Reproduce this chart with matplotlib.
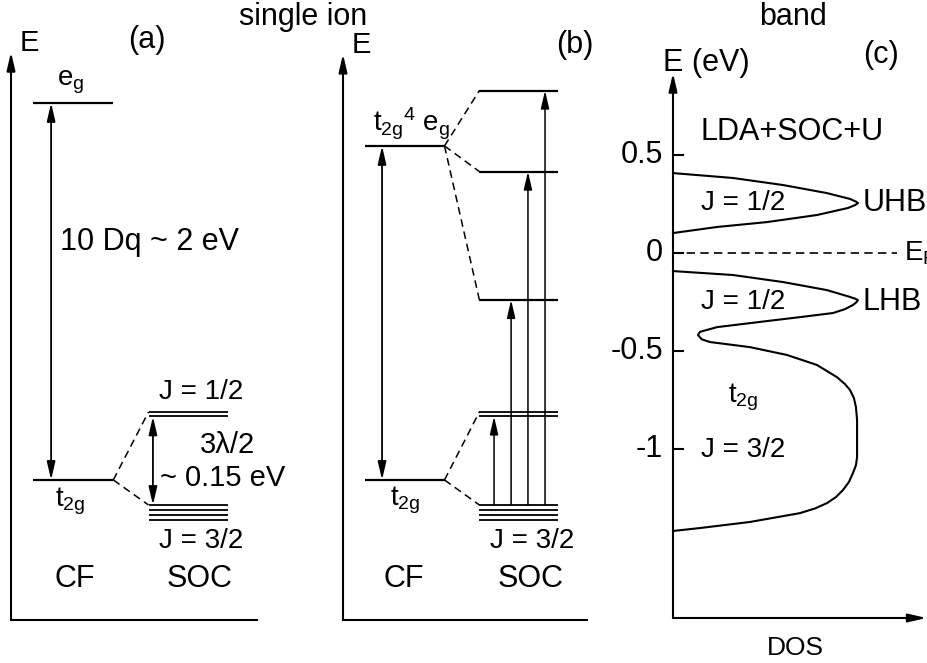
import matplotlib
matplotlib.use("Agg")
import matplotlib.pyplot as plt

plt.rcParams["font.family"] = ["Liberation Sans", "DejaVu Sans"]
plt.rcParams["mathtext.fontset"] = "custom"
plt.rcParams["mathtext.rm"] = "Liberation Sans"
plt.rcParams["mathtext.it"] = "Liberation Sans:italic"

# panel (a): single ion, crystal field then SOC (schematic energies, eV)
A_EG = 2.0
A_T2G = 0.0
A_J12 = [0.361, 0.337]
A_J32 = [-0.133, -0.159, -0.186, -0.212]

# panel (b): t2g^4 eg excitation split by SOC
B_UPPER = 1.772
B_T2G = 0.0
B_SOC = [2.066, 1.636, 0.955]
B_J12 = [0.361, 0.337]
B_J32 = [-0.133, -0.159, -0.186, -0.212]
B_TARGETS = [0.337, 0.955, 1.636, 2.066]

# panel (c): LDA+SOC+U density of states (E in eV, DOS arb. units)
UHB_E = [0.408, 0.383, 0.347, 0.306, 0.276, 0.262, 0.255, 0.245, 0.230, 0.194,
         0.158, 0.133, 0.102]
UHB_DOS = [0.0, 0.324, 0.595, 0.832, 0.957, 0.99, 1.0, 0.985, 0.946, 0.778,
           0.508, 0.238, 0.0]
LHB_E = [-0.092, -0.112, -0.148, -0.189, -0.224, -0.233, -0.240, -0.252, -0.265, -0.286,
         -0.306, -0.327, -0.347, -0.378, -0.402, -0.418, -0.440, -0.454, -0.480, -0.520,
         -0.571, -0.633, -0.669, -0.699, -0.740, -0.786, -0.852, -0.918, -0.980, -1.041,
         -1.082, -1.122, -1.168, -1.209, -1.245, -1.276, -1.303, -1.327, -1.372, -1.403,
         -1.418]
LHB_DOS = [0.0, 0.324, 0.595, 0.832, 0.957, 0.985, 1.0, 0.99, 0.973, 0.93,
           0.865, 0.686, 0.508, 0.238, 0.146, 0.135, 0.155, 0.2, 0.416, 0.616,
           0.778, 0.886, 0.93, 0.957, 0.978, 0.989, 0.995, 0.995, 0.995, 0.995,
           0.989, 0.973, 0.951, 0.919, 0.881, 0.832, 0.768, 0.686, 0.416, 0.146,
           0.0]
C_TICKS = [0.5, 0.0, -0.5, -1.0]
C_TICK_LABELS = ["0.5", "0", "-0.5", "-1"]

# layout (fractions of each level panel)
CF_X = (0.09, 0.416)
SOC_X = (0.559, 0.883)
DASH = (0, (5, 3.2))
W, H = 927, 663


def arrow(ax, x0, y0, x1, y1, style="-|>", lw=1.3):
    ax.annotate("", xy=(x1, y1), xytext=(x0, y0), annotation_clip=False,
                arrowprops=dict(arrowstyle=f"{style},head_length=1.08,head_width=0.25",
                                mutation_scale=10, lw=lw, color="k",
                                shrinkA=0, shrinkB=0))


def level(ax, y, xr, lw=1.6):
    ax.plot(xr, [y, y], color="k", lw=lw, clip_on=False, solid_capstyle="butt")


def frame(ax, ymin, ytop):
    arrow(ax, 0, ymin, 0, ytop, lw=1.5)
    ax.plot([0, 1], [ymin, ymin], color="k", lw=1.5, clip_on=False)


fig = plt.figure(figsize=(W / 100, H / 100), dpi=100)
ax_a = fig.add_axes([11 / W, 43 / H, 246 / W, 580 / H])
ax_b = fig.add_axes([343 / W, 43 / H, 244 / W, 580 / H])
ax_c = fig.add_axes([673 / W, 45 / H, 254 / W, 578 / H])
for ax in (ax_a, ax_b):
    ax.set_xlim(0, 1)
    ax.set_ylim(-0.743, 2.334)
    ax.axis("off")
ax_c.set_xlim(0, 1.373)
ax_c.set_ylim(-1.862, 1.087)
ax_c.axis("off")

# ---------------- panel (a) ----------------
frame(ax_a, -0.743, 2.27)
level(ax_a, A_EG, CF_X)
level(ax_a, A_T2G, CF_X)
for y in A_J12:
    level(ax_a, y, SOC_X, lw=1.3)
for y in A_J32:
    level(ax_a, y, SOC_X, lw=1.3)
ax_a.plot([CF_X[1], SOC_X[0]], [A_T2G, A_J12[0]], color="k", lw=1.1, ls=DASH, clip_on=False)
ax_a.plot([CF_X[1], SOC_X[0]], [A_T2G, A_J32[0]], color="k", lw=1.1, ls=DASH, clip_on=False)
arrow(ax_a, 0.163, A_T2G, 0.163, A_EG, style="<|-|>")
arrow(ax_a, 0.577, A_J32[0], 0.577, A_J12[-1], style="<|-|>")

ax_a.text(0.075, 2.316, "E", fontsize=21, ha="center", va="center")
ax_a.text(0.553, 2.334, "(a)", fontsize=22, ha="center", va="center")
ax_a.text(0.185, 2.095, r"$\mathregular{e_g}$", fontsize=20, ha="left", va="baseline")
ax_a.text(0.2, 1.263, "10 Dq ~ 2 eV", fontsize=22, ha="left", va="center")
ax_a.text(0.179, -0.143, r"$\mathregular{t_{2g}}$", fontsize=20, ha="left", va="baseline")
ax_a.text(0.772, 0.467, "J = 1/2", fontsize=20, ha="center", va="center")
ax_a.text(0.882, 0.186, "3λ/2", fontsize=21, ha="center", va="center")
ax_a.text(0.606, 0.011, "~ 0.15 eV", fontsize=21, ha="left", va="center")
ax_a.text(0.772, -0.324, "J = 3/2", fontsize=20, ha="center", va="center")
ax_a.text(0.26, -0.525, "CF", fontsize=22, ha="center", va="center")
ax_a.text(0.768, -0.525, "SOC", fontsize=22, ha="center", va="center")

# ---------------- panel (b) ----------------
frame(ax_b, -0.743, 2.26)
level(ax_b, B_UPPER, CF_X)
level(ax_b, B_T2G, CF_X)
for y in B_SOC:
    level(ax_b, y, SOC_X)
for y in B_J12:
    level(ax_b, y, SOC_X, lw=1.3)
for y in B_J32:
    level(ax_b, y, SOC_X, lw=1.3)
for y in B_SOC:
    ax_b.plot([CF_X[1], SOC_X[0]], [B_UPPER, y], color="k", lw=1.1, ls=DASH, clip_on=False)
ax_b.plot([CF_X[1], SOC_X[0]], [B_T2G, B_J12[0]], color="k", lw=1.1, ls=DASH, clip_on=False)
ax_b.plot([CF_X[1], SOC_X[0]], [B_T2G, B_J32[0]], color="k", lw=1.1, ls=DASH, clip_on=False)
arrow(ax_b, 0.16, B_T2G, 0.16, B_UPPER, style="<|-|>")
for xa, yt in zip([0.619, 0.689, 0.758, 0.828], B_TARGETS):
    arrow(ax_b, xa, B_J32[0], xa, yt, lw=1.1)

ax_b.text(0.074, 2.31, "E", fontsize=21, ha="center", va="center")
ax_b.text(0.951, 2.308, "(b)", fontsize=22, ha="center", va="center")
ax_b.text(0.123, 1.846, r"$\mathregular{t_{2g}{}^{4}\ e_g}$", fontsize=20, ha="left", va="baseline")
ax_b.text(0.193, -0.133, r"$\mathregular{t_{2g}}$", fontsize=20, ha="left", va="baseline")
ax_b.text(0.775, -0.324, "J = 3/2", fontsize=20, ha="center", va="center")
ax_b.text(0.25, -0.525, "CF", fontsize=22, ha="center", va="center")
ax_b.text(0.77, -0.525, "SOC", fontsize=22, ha="center", va="center")

# ---------------- panel (c) ----------------
arrow(ax_c, 0, -1.862, 0, 0.918, lw=1.5)
arrow(ax_c, 0, -1.862, 1.37, -1.862, lw=1.5)
for t, lab in zip(C_TICKS, C_TICK_LABELS):
    ax_c.plot([0, 0.054], [t, t], color="k", lw=1.5, clip_on=False)
    ax_c.text(-0.054, t, lab, fontsize=22, ha="right", va="center")
ax_c.plot([0, 1.21], [0, 0], color="k", lw=1.2, ls=DASH, clip_on=False)
ax_c.plot(UHB_DOS, UHB_E, color="k", lw=1.5, clip_on=False, solid_joinstyle="round")
ax_c.plot(LHB_DOS, LHB_E, color="k", lw=1.5, clip_on=False, solid_joinstyle="round")

ax_c.text(-0.054, 0.969, "E (eV)", fontsize=22, ha="left", va="center")
ax_c.text(1.124, 1.010, "(c)", fontsize=22, ha="center", va="center")
ax_c.text(0.146, 0.617, "LDA+SOC+U", fontsize=22, ha="left", va="center")
ax_c.text(0.378, 0.253, "J = 1/2", fontsize=20, ha="center", va="center")
ax_c.text(1.027, 0.255, "UHB", fontsize=22, ha="left", va="center")
ax_c.text(0.378, -0.25, "J = 1/2", fontsize=20, ha="center", va="center")
ax_c.text(1.027, -0.25, "LHB", fontsize=22, ha="left", va="center")
ax_c.text(1.25, -0.036, r"$\mathregular{E_F}$", fontsize=20, ha="left", va="baseline")
ax_c.text(0.297, -0.765, r"$\mathregular{t_{2g}}$", fontsize=20, ha="left", va="baseline")
ax_c.text(0.378, -1.005, "J = 3/2", fontsize=20, ha="center", va="center")
ax_c.text(0.659, -2.015, "DOS", fontsize=19, ha="center", va="center")
ax_c.text(0.649, 1.204, "band", fontsize=22, ha="center", va="center")

fig.text(303 / W, 1 - 17 / H, "single ion", fontsize=22, ha="center", va="center")

fig.savefig("out.png", dpi=100)
